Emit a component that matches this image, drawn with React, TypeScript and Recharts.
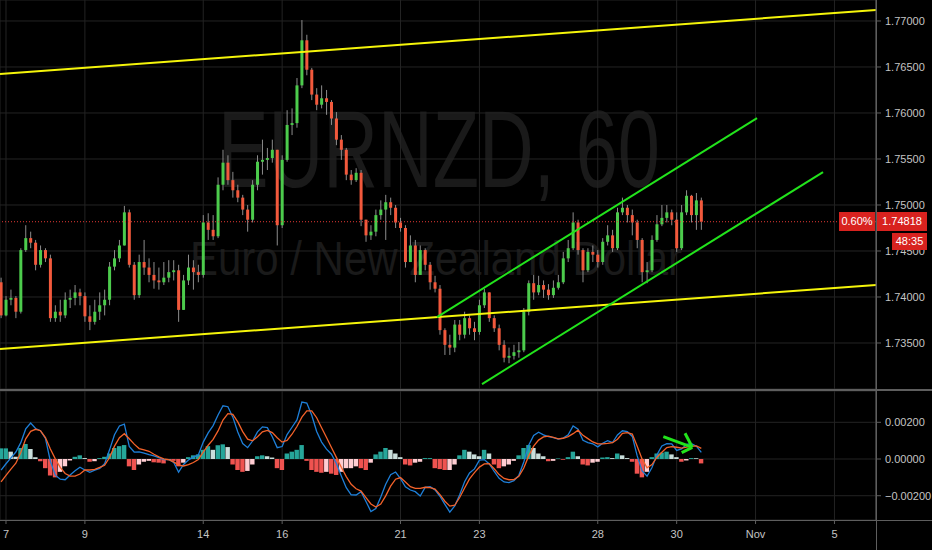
import React from "react";
import { ComposedChart, Bar, Line, XAxis, YAxis, CartesianGrid, ReferenceLine, Cell } from "recharts";

// EURNZD candles, one every 3 hours, first one Sun Oct 6 21:00
const firstOpen = 1.7416;
const closes = [
  1.738, 1.7397, 1.7399, 1.7384, 1.7451, 1.7464, 1.7459, 1.7435, 1.7451, 1.7442,
  1.7377, 1.7384, 1.738, 1.7397, 1.7399, 1.7405, 1.7401, 1.7379, 1.7373, 1.7384,
  1.7391, 1.7397, 1.7433, 1.7442, 1.7456, 1.7492, 1.7435, 1.7402, 1.7438, 1.7432,
  1.7424, 1.7418, 1.7416, 1.7421, 1.7427, 1.7429, 1.7386, 1.7418, 1.7432, 1.7427,
  1.7424, 1.7481, 1.7473, 1.7466, 1.7522, 1.7546, 1.7527, 1.7516, 1.7508, 1.7495,
  1.7484, 1.7522, 1.7547, 1.7549, 1.7551, 1.756, 1.7478, 1.7549, 1.7587, 1.7589,
  1.763, 1.7679, 1.7647, 1.762, 1.7609, 1.7616, 1.7612, 1.7594, 1.7571, 1.756,
  1.7533, 1.7527, 1.7535, 1.7484, 1.7467, 1.7471, 1.7489, 1.7495, 1.7503, 1.7497,
  1.7481, 1.7475, 1.7438, 1.7456, 1.7424, 1.7451, 1.7435, 1.7416, 1.7409, 1.7364,
  1.7348, 1.7345, 1.737, 1.7359, 1.7377, 1.7366, 1.7362, 1.7391, 1.7405, 1.7377,
  1.7366, 1.7348, 1.7334, 1.7336, 1.734, 1.7342, 1.7384, 1.7415, 1.7405, 1.7413,
  1.7408, 1.7402, 1.741, 1.7416, 1.7442, 1.7453, 1.7481, 1.7451, 1.7429, 1.7449,
  1.7446, 1.7438, 1.746, 1.7467, 1.7453, 1.7492, 1.7497, 1.7489, 1.7481, 1.7462,
  1.7427, 1.7429, 1.7462, 1.7479, 1.7486, 1.7492, 1.7484, 1.7453, 1.7492, 1.751,
  1.7489, 1.7505, 1.74818,
];
const highs = [
  1.7421, 1.7401, 1.7408, 1.7401, 1.7453, 1.7478, 1.7471, 1.7462, 1.7456, 1.7453,
  1.7446, 1.7391, 1.7397, 1.7405, 1.7408, 1.7413, 1.7409, 1.7405, 1.7391, 1.7397,
  1.7405, 1.7408, 1.7438, 1.7451, 1.7462, 1.7499, 1.7495, 1.7438, 1.7446, 1.7462,
  1.7442, 1.7438, 1.7432, 1.7438, 1.744, 1.744, 1.7435, 1.7424, 1.7446, 1.744,
  1.7435, 1.7489, 1.7491, 1.7489, 1.753, 1.756, 1.7554, 1.7536, 1.7522, 1.7511,
  1.75, 1.7527, 1.7554, 1.7571, 1.7562, 1.7571, 1.756, 1.7554, 1.7603, 1.7605,
  1.7638, 1.7701, 1.7685, 1.7649, 1.7627, 1.763, 1.7625, 1.7614, 1.7601, 1.7576,
  1.7562, 1.7538, 1.754, 1.7538, 1.7484, 1.7478, 1.7495, 1.7505, 1.7511, 1.7508,
  1.75, 1.7486, 1.7478, 1.7467, 1.7462, 1.7456, 1.7453, 1.7438, 1.7423, 1.7413,
  1.7366, 1.7359, 1.7375, 1.7375, 1.7384, 1.738, 1.7373, 1.7397, 1.7409, 1.7405,
  1.738, 1.737, 1.7353, 1.7345, 1.7348, 1.7351, 1.7388, 1.7418, 1.7424, 1.7423,
  1.7418, 1.7414, 1.7418, 1.7424, 1.7449, 1.7462, 1.7492, 1.7484, 1.7453, 1.7453,
  1.7456, 1.7451, 1.7464, 1.7478, 1.7473, 1.7497, 1.7508, 1.75, 1.7495, 1.7484,
  1.7464, 1.7438, 1.7467, 1.7489, 1.75, 1.75, 1.7495, 1.7492, 1.75, 1.7516,
  1.7511, 1.7513, 1.7508,
];
const lows = [
  1.7377, 1.7379, 1.7391, 1.7377, 1.7382, 1.7449, 1.7453, 1.7429, 1.7432, 1.7438,
  1.7373, 1.7373, 1.7373, 1.7377, 1.7388, 1.7391, 1.7391, 1.7373, 1.7364, 1.737,
  1.7375, 1.738, 1.7391, 1.7429, 1.7438, 1.7456, 1.7432, 1.7397, 1.7399, 1.7424,
  1.7416, 1.7409, 1.7408, 1.7413, 1.7416, 1.7418, 1.7373, 1.7386, 1.7413, 1.7408,
  1.7416, 1.7421, 1.7462, 1.7462, 1.7464, 1.7516, 1.7522, 1.7508, 1.7503, 1.7489,
  1.7471, 1.7481, 1.7516, 1.7533, 1.7538, 1.7546, 1.7456, 1.7475, 1.7547, 1.7576,
  1.7584, 1.7627, 1.7641, 1.7614, 1.7603, 1.7605, 1.7598, 1.7587, 1.7565, 1.7549,
  1.7527, 1.7522, 1.7525, 1.7477, 1.746, 1.7462, 1.7466, 1.7484, 1.7462, 1.7489,
  1.7475, 1.7471, 1.7432, 1.7438, 1.7416, 1.7424, 1.7429, 1.7408, 1.7405, 1.7359,
  1.7337, 1.7337, 1.734, 1.7353, 1.7355, 1.7359, 1.7353, 1.7359, 1.7388, 1.7373,
  1.7362, 1.7342, 1.7329, 1.7328, 1.7332, 1.7334, 1.734, 1.738, 1.7397, 1.7402,
  1.7399, 1.7397, 1.7399, 1.7408, 1.7414, 1.7438, 1.7451, 1.7446, 1.7416, 1.7427,
  1.7438, 1.7432, 1.7435, 1.7456, 1.7449, 1.7451, 1.7489, 1.7481, 1.7467, 1.7453,
  1.7416, 1.7415, 1.7427, 1.746, 1.7477, 1.7481, 1.7478, 1.7449, 1.7451, 1.7489,
  1.7481, 1.7473, 1.7473,
];

// MACD (12, 26, close, 9)
const macdLine = [
  -0.00061, -0.00026, 0.00006, 0.00038, 0.00089, 0.00164, 0.00196, 0.00166, 0.00154, 0.00112,
  -0.00012, -0.00088, -0.0011, -0.00113, -0.00087, -0.00064, -0.00045, -0.0006, -0.00073, -0.00061,
  -0.00051, -0.00026, 0.0005, 0.00132, 0.0018, 0.0019, 0.00068, 0.00038, 0.00039, 0.00032,
  0.00024, 0.00017, 0.00007, -0.00003, -0.00003, -0.00018, -0.00072, -0.0003, -0.00005, 0.0001,
  0.00022, 0.00092, 0.00142, 0.00182, 0.0024, 0.0029, 0.00285, 0.00228, 0.00147, 0.00084,
  0.00062, 0.00098, 0.00148, 0.00175, 0.00171, 0.00121, 0.00062, 0.00068, 0.00133, 0.00173,
  0.00213, 0.0031, 0.00305, 0.00238, 0.0015, 0.00092, 0.00054, 0.00026, -0.00024, -0.00092,
  -0.00156, -0.00195, -0.00196, -0.00178, -0.00232, -0.00286, -0.0027, -0.00207, -0.00137, -0.00086,
  -0.00071, -0.00107, -0.00152, -0.00169, -0.00178, -0.00202, -0.00155, -0.00151, -0.00168, -0.00203,
  -0.00247, -0.00289, -0.00256, -0.00195, -0.00124, -0.00076, -0.00054, -0.00006, -0.00003, -0.00027,
  -0.00068, -0.00105, -0.00125, -0.00129, -0.00118, -0.00089, -0.00016, 0.00075, 0.00128, 0.00146,
  0.00132, 0.00122, 0.00117, 0.00108, 0.00114, 0.00132, 0.0018, 0.00162, 0.00102, 0.00089,
  0.00083, 0.00066, 0.00086, 0.001, 0.0009, 0.00131, 0.00154, 0.00149, 0.00123, 0.00017,
  -0.00065, -0.00094, -0.00046, 0.00023, 0.00071, 0.00084, 0.00082, 0.00047, 0.00055, 0.0008,
  0.00083, 0.0007, 0.00036,
];
const signalLine = [
  -0.00125, -0.00089, -0.00055, -0.00023, 0.00035, 0.0011, 0.00151, 0.00162, 0.00154, 0.00117,
  0.00054, 0.00001, -0.00046, -0.00079, -0.00093, -0.00093, -0.00082, -0.0006, -0.0006, -0.00056,
  -0.00046, -0.00034, 0.00008, 0.0007, 0.00116, 0.00138, 0.0011, 0.00081, 0.00057, 0.0005,
  0.00042, 0.00026, 0.00012, 0.00001, -0.00004, -0.00016, -0.00033, -0.00038, -0.00031, -0.00019,
  -0.00003, 0.00038, 0.00075, 0.00107, 0.00153, 0.00212, 0.00247, 0.00243, 0.00202, 0.00149,
  0.00108, 0.00099, 0.00121, 0.00148, 0.00156, 0.00144, 0.00116, 0.00092, 0.00101, 0.00135,
  0.00177, 0.00228, 0.00262, 0.00262, 0.00225, 0.0017, 0.00117, 0.00063, 0.00009, -0.00045,
  -0.00096, -0.00138, -0.00162, -0.00175, -0.0021, -0.00245, -0.00262, -0.00246, -0.00201, -0.00148,
  -0.0011, -0.00101, -0.00125, -0.00151, -0.0016, -0.0016, -0.00154, -0.00156, -0.00164, -0.00194,
  -0.0023, -0.00257, -0.00252, -0.0021, -0.00158, -0.00108, -0.00074, -0.00044, -0.00027, -0.00026,
  -0.00053, -0.00085, -0.00106, -0.00113, -0.00112, -0.00094, -0.00049, 0.00017, 0.0007, 0.00103,
  0.0012, 0.00125, 0.00118, 0.0011, 0.00113, 0.00122, 0.00138, 0.00157, 0.00129, 0.00111,
  0.00093, 0.00082, 0.00082, 0.00085, 0.00089, 0.00108, 0.0014, 0.00144, 0.00136, 0.0007,
  -0.00001, -0.00048, -0.0003, 0.0001, 0.00037, 0.00062, 0.00067, 0.00064, 0.00059, 0.00065,
  0.0007, 0.00071, 0.00058,
];
const histogram = [
  0.00058, 0.00058, 0.0004, 0.00012, 0.0006, 0.00082, 0.00055, 0.0001, -0.00012, -0.0005,
  -0.0009, -0.001, -0.0007, -0.0004, -0.00008, 0.00012, 0.0002, 0.00005, -0.00015, -0.00012,
  0.00005, 0.00012, 0.0003, 0.0006, 0.0007, 0.00076, -0.0004, -0.0006, -0.0003, -0.00015,
  -0.0001, -0.00018, -0.0002, -0.00024, -0.00005, -0.0001, -0.0004, -0.0002, 0.0001, 0.0002,
  0.00025, 0.0005, 0.0007, 0.0005, 0.00075, 0.0008, 0.00065, -0.0003, -0.0006, -0.0007,
  -0.00065, -0.0003, 0.00015, 0.0002, 0.00015, 0.00008, -0.0005, -0.0006, 0.0003, 0.0004,
  0.0005, 0.00076, -0.0001, -0.0006, -0.0007, -0.00075, -0.0007, -0.0008, -0.00087, -0.0007,
  -0.0005, -0.0005, -0.0004, -0.0005, -0.0006, -0.0002, 0.00025, 0.0004, 0.0006, 0.0005,
  0.0003, 0.0001, -0.0003, -0.00035, -0.0002, -0.00015, 0.00005, 0.00005, -0.0005, -0.00055,
  -0.0006, -0.0006, -0.0003, 0.0002, 0.0005, 0.0004, 0.00025, 0.00015, 0.0005, 0.0003,
  -0.0003, -0.0005, -0.0004, -0.0003, -0.0001, 0.0002, 0.0006, 0.00076, 0.0006, 0.0003,
  0.00015, -0.00012, -0.0001, 0.00003, -0.00004, 0.0001, 0.0004, 0.00015, -0.0003, -0.00035,
  -0.0002, -0.00015, 0.00008, 0.0001, 0.00005, 0.0003, 0.0002, 0.00005, -0.00015, -0.0008,
  -0.001, -0.0007, 0.0001, 0.0003, 0.00035, 0.0004, 0.00025, 0.0001, -0.00015, -0.00008,
  0.00005, 0.00004, -0.00024,
];

// x axis is in trading days from Mon Oct 7 00:00 (weekends skipped)
const dayTicks = [0, 2, 5, 7, 10, 12, 15, 17, 19, 21];
const dayLabels = ["7", "9", "14", "16", "21", "23", "28", "30", "Nov", "5"];
const priceTicks = [1.73, 1.735, 1.74, 1.745, 1.75, 1.755, 1.76, 1.765, 1.77];
const macdTicks = [-0.002, 0, 0.002];
const lastPrice = 1.74818;

// drawings: [trading day, price]
const yellowLines = [
  [[-0.152, 1.76424], [22.053, 1.77119]],
  [[-0.152, 1.73435], [22.053, 1.7413]],
];
const greenLines = [
  [[10.925, 1.73782], [19.037, 1.75945]],
  [[12.066, 1.73054], [20.71, 1.75358]],
];
const macdArrow = [
  [[16.662, 0.001215], [17.397, 0.000638]],
  [[17.212, 0.0014], [17.397, 0.000638]],
  [[17.128, 0.000343], [17.397, 0.000638]],
];

const X_DOMAIN = [-0.152, 22.053];
const UP = "#4ccb4c";
const DOWN = "#f2593c";
const WICK = "#8c8c8c";
const GRID = "#232323";
const TEXT = "#c4c4c4";
const BORDER = "#5e5e5e";
const FONT = "'Liberation Sans Narrow', 'Liberation Sans', Arial, sans-serif";

const rows = closes.map((close, i) => ({
  t: (i - 1) / 8,
  open: i === 0 ? firstOpen : closes[i - 1],
  close,
  high: highs[i],
  low: lows[i],
  range: [lows[i], highs[i]],
  macd: macdLine[i],
  signal: signalLine[i],
  hist: histogram[i],
}));

function histColor(i: number) {
  const v = histogram[i];
  const prev = i > 0 ? histogram[i - 1] : v;
  if (v >= 0) return v >= prev ? "#26a69a" : "#c9dedb";
  return v < prev ? "#ef5350" : "#ffcdd2";
}

const Candle = (props: any) => {
  const { x, y, width, height, payload } = props;
  if (x == null || y == null) return null;
  const { open, close, high, low } = payload;
  const top = Math.min(y, y + height);
  const bottom = Math.max(y, y + height);
  const span = high - low || 1e-9;
  const py = (p: number) => top + ((high - p) / span) * (bottom - top);
  const bodyTop = py(Math.max(open, close));
  const bodyBottom = py(Math.min(open, close));
  const cx = x + width / 2;
  return (
    <g>
      <line x1={cx} x2={cx} y1={top} y2={bottom} stroke={WICK} strokeWidth={1} />
      <rect
        x={x}
        y={bodyTop}
        width={width}
        height={Math.max(1, bodyBottom - bodyTop)}
        fill={close >= open ? UP : DOWN}
      />
    </g>
  );
};

const fmtMacd = (v: number) => (v < 0 ? "\u2212" + Math.abs(v).toFixed(5) : v.toFixed(5));

const boxStyle = {
  position: "absolute" as const,
  background: "#d8221f",
  color: "#fff",
  fontSize: 11,
  textAlign: "center" as const,
};

export default function App() {
  return (
    <div
      style={{
        position: "absolute",
        top: 0,
        left: 0,
        width: 932,
        height: 550,
        background: "#000",
        overflow: "hidden",
        fontFamily: FONT,
      }}
    >
      {/* watermark */}
      <svg width={932} height={550} style={{ position: "absolute", top: 0, left: 0 }}>
        <text
          x={439}
          y={187}
          textAnchor="middle"
          fontSize={110}
          fill="#1a1a1a"
          textLength={442}
          lengthAdjust="spacingAndGlyphs"
          style={{ fontFamily: "'Liberation Sans', Arial, sans-serif" }}
        >
          EURNZD, 60
        </text>
        <text
          x={436}
          y={275}
          textAnchor="middle"
          fontSize={48}
          fill="#1a1a1a"
          textLength={492}
          lengthAdjust="spacingAndGlyphs"
          style={{ fontFamily: "'Liberation Sans', Arial, sans-serif" }}
        >
          Euro / New Zealand Dollar
        </text>
      </svg>

      <div style={{ position: "absolute", top: 0, left: 0 }}>
        <ComposedChart width={932} height={389} data={rows} margin={{ top: 0, right: 0, bottom: 0, left: 0 }}>
          <CartesianGrid stroke={GRID} />
          <XAxis
            hide
            type="number"
            dataKey="t"
            domain={X_DOMAIN}
            ticks={dayTicks}
            allowDataOverflow
          />
          <YAxis
            orientation="right"
            width={56}
            domain={[1.73, 1.77228]}
            ticks={priceTicks}
            allowDataOverflow
            tickFormatter={(v: number) => v.toFixed(5)}
            tick={{ fill: TEXT, fontSize: 11 }}
            tickSize={5}
            tickMargin={4}
            axisLine={{ stroke: BORDER }}
            tickLine={{ stroke: BORDER }}
          />
          <ReferenceLine y={lastPrice} stroke="#e53935" strokeDasharray="1 2" />
          <Bar dataKey="range" barSize={3} isAnimationActive={false} shape={Candle} />
          {yellowLines.map((s, k) => (
            <ReferenceLine
              key={"y" + k}
              segment={[{ x: s[0][0], y: s[0][1] }, { x: s[1][0], y: s[1][1] }]}
              stroke="#f5f50a"
              strokeWidth={2}
              ifOverflow="visible"
            />
          ))}
          {greenLines.map((s, k) => (
            <ReferenceLine
              key={"g" + k}
              segment={[{ x: s[0][0], y: s[0][1] }, { x: s[1][0], y: s[1][1] }]}
              stroke="#22e31c"
              strokeWidth={2}
              ifOverflow="visible"
            />
          ))}
        </ComposedChart>
      </div>

      <div style={{ position: "absolute", top: 390, left: 0 }}>
        <ComposedChart width={932} height={160} data={rows} margin={{ top: 1, right: 0, bottom: 0, left: 0 }}>
          <CartesianGrid stroke={GRID} />
          <XAxis
            type="number"
            dataKey="t"
            domain={X_DOMAIN}
            ticks={dayTicks}
            allowDataOverflow
            height={30}
            tickFormatter={(v: number) => dayLabels[dayTicks.indexOf(v)] ?? ""}
            tick={{ fill: TEXT, fontSize: 11 }}
            tickSize={4}
            tickMargin={6}
            axisLine={false}
            tickLine={{ stroke: BORDER }}
          />
          <YAxis
            orientation="right"
            width={56}
            domain={[-0.003324, 0.003706]}
            ticks={macdTicks}
            allowDataOverflow
            tickFormatter={fmtMacd}
            tick={{ fill: TEXT, fontSize: 11 }}
            tickSize={5}
            tickMargin={4}
            axisLine={{ stroke: BORDER }}
            tickLine={{ stroke: BORDER }}
          />
          <Bar dataKey="hist" barSize={6} isAnimationActive={false}>
            {rows.map((_, i) => (
              <Cell key={i} fill={histColor(i)} />
            ))}
          </Bar>
          <Line dataKey="macd" stroke="#1e7fd8" strokeWidth={1.3} dot={false} isAnimationActive={false} />
          <Line dataKey="signal" stroke="#f4622a" strokeWidth={1.3} dot={false} isAnimationActive={false} />
          {macdArrow.map((s, k) => (
            <ReferenceLine
              key={"a" + k}
              segment={[{ x: s[0][0], y: s[0][1] }, { x: s[1][0], y: s[1][1] }]}
              stroke="#22e31c"
              strokeWidth={3}
              ifOverflow="visible"
            />
          ))}
        </ComposedChart>
      </div>

      {/* pane borders */}
      <div style={{ position: "absolute", top: 389, left: 0, width: 932, height: 2, background: BORDER }} />
      <div style={{ position: "absolute", top: 520, left: 0, width: 932, height: 1, background: BORDER }} />
      <div style={{ position: "absolute", top: 0, left: 876, width: 1, height: 550, background: BORDER }} />

      {/* last price labels */}
      <div style={{ ...boxStyle, top: 212, left: 839, width: 36, height: 19, lineHeight: "19px" }}>0.60%</div>
      <div style={{ ...boxStyle, top: 212, left: 877, width: 50, height: 19, lineHeight: "19px" }}>1.74818</div>
      <div style={{ ...boxStyle, top: 233, left: 892, width: 35, height: 17, lineHeight: "17px" }}>48:35</div>
    </div>
  );
}
